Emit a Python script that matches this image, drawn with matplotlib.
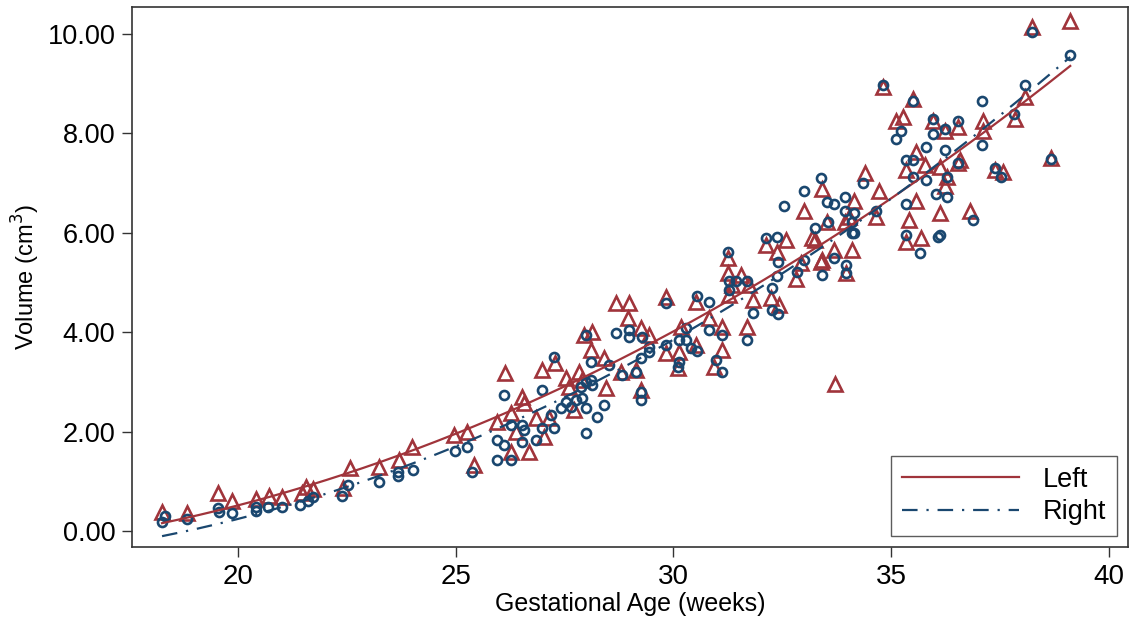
import numpy as np
import matplotlib.pyplot as plt

plt.rcParams.update({
    'font.family': 'Liberation Sans',
    'font.size': 19,
    'xtick.labelsize': 20,
    'ytick.labelsize': 19.5,
    'legend.fontsize': 19.5,
})

# Left kidney volume (triangles)
left_age = [18.26, 18.83, 19.54, 19.86, 20.41, 20.71, 21.01, 21.47, 21.56, 21.72,
            22.41, 22.57, 23.25, 23.69, 23.99, 24.97, 25.25, 25.43, 26.14, 25.96,
            26.28, 26.28, 26.53, 26.58, 26.39, 26.85, 26.69, 27.03, 26.99, 27.29,
            27.15, 27.54, 27.61, 27.84, 27.72, 27.95, 28.13, 28.11, 27.90, 28.41,
            28.45, 28.68, 28.98, 28.96, 28.80, 29.14, 29.26, 29.26, 29.44, 29.83,
            30.13, 30.10, 30.17, 29.83, 30.52, 31.25, 31.25, 31.55, 31.34, 31.27,
            31.73, 31.82, 32.23, 32.42, 31.68, 31.11, 31.11, 30.93, 30.81, 30.52,
            32.12, 32.58, 32.37, 32.81, 32.94, 33.26, 33.40, 33.68, 34.09, 33.97,
            33.70, 33.52, 33.95, 34.82, 35.51, 35.12, 35.28, 35.97, 36.54, 35.56,
            35.78, 35.35, 36.13, 36.59, 36.24, 34.41, 33.40, 34.71, 32.99, 34.14,
            34.02, 34.66, 35.56, 35.40, 36.13, 36.82, 35.35, 35.69, 33.18, 33.38,
            38.24, 39.11, 38.08, 37.11, 37.11, 37.85, 38.67, 36.24, 36.54, 37.39,
            37.57, 36.27]
left_vol = [0.38, 0.36, 0.77, 0.60, 0.64, 0.70, 0.68, 0.77, 0.89, 0.85,
            0.87, 1.27, 1.29, 1.43, 1.69, 1.93, 1.99, 1.33, 3.18, 2.20,
            2.38, 1.59, 2.70, 2.58, 1.99, 2.28, 1.59, 1.89, 3.24, 3.38,
            2.28, 3.08, 2.90, 3.20, 2.44, 3.95, 4.01, 3.65, 3.04, 3.48,
            2.88, 4.59, 4.59, 4.29, 3.20, 3.24, 4.09, 2.84, 3.95, 3.59,
            3.61, 3.28, 4.11, 4.71, 4.61, 5.50, 5.20, 5.16, 4.95, 4.75,
            4.95, 4.65, 4.69, 4.55, 4.11, 4.11, 3.65, 3.30, 4.29, 3.75,
            5.76, 5.86, 5.62, 5.06, 5.40, 5.86, 5.46, 5.66, 5.66, 5.20,
            2.96, 6.22, 6.22, 8.94, 8.68, 8.24, 8.32, 8.24, 8.12, 7.63,
            7.37, 7.27, 7.33, 7.47, 6.93, 7.21, 6.87, 6.83, 6.43, 6.63,
            6.32, 6.32, 6.63, 6.26, 6.40, 6.43, 5.82, 5.90, 5.90, 5.42,
            10.13, 10.25, 8.72, 8.24, 8.04, 8.28, 7.51, 8.04, 7.41, 7.27,
            7.23, 7.13]

# Right kidney volume (circles)
right_age = [18.26, 18.33, 18.83, 19.54, 19.56, 19.86, 20.41, 20.41, 20.69, 21.01,
             21.42, 21.60, 21.72, 22.38, 22.54, 23.25, 23.67, 23.67, 24.01, 24.99,
             25.27, 25.38, 26.12, 25.96, 26.12, 25.96, 26.28, 26.28, 26.53, 26.58,
             26.53, 26.85, 26.99, 26.99, 27.26, 27.26, 27.19, 27.42, 27.54, 27.65,
             27.77, 27.90, 28.00, 27.88, 28.00, 28.11, 28.11, 28.13, 28.25, 28.41,
             28.00, 28.00, 28.52, 28.68, 28.98, 28.98, 28.82, 29.14, 29.26, 29.26,
             29.26, 29.28, 29.44, 29.44, 29.83, 29.83, 30.13, 30.13, 30.10, 30.29,
             30.29, 30.40, 30.54, 31.25, 31.27, 31.27, 31.43, 31.68, 30.54, 30.81,
             30.81, 31.11, 30.97, 31.11, 31.82, 31.68, 32.12, 32.37, 32.39, 32.37,
             32.26, 32.26, 32.39, 32.83, 32.99, 33.26, 33.40, 33.68, 33.97, 33.97,
             34.09, 33.56, 34.09, 34.82, 35.51, 35.23, 35.10, 35.97, 35.97, 36.24,
             36.54, 35.81, 36.24, 36.54, 35.35, 35.51, 35.51, 35.81, 36.27, 36.03,
             36.27, 36.88, 33.38, 32.99, 34.36, 32.53, 33.52, 33.68, 33.95, 33.95,
             34.14, 34.14, 34.66, 35.35, 35.35, 36.08, 35.67, 38.24, 39.11, 38.08,
             37.09, 37.09, 37.82, 38.67, 37.39, 37.53, 36.13]
right_vol = [0.18, 0.30, 0.24, 0.46, 0.38, 0.36, 0.48, 0.40, 0.48, 0.48,
             0.52, 0.60, 0.68, 0.70, 0.93, 0.99, 1.19, 1.11, 1.23, 1.61,
             1.69, 1.19, 2.74, 1.83, 1.73, 1.43, 1.43, 2.13, 2.13, 2.03,
             1.79, 1.83, 2.07, 2.84, 3.50, 2.07, 2.34, 2.48, 2.60, 2.50,
             2.64, 2.68, 2.48, 2.90, 3.00, 3.04, 3.40, 2.94, 2.30, 2.54,
             1.97, 3.95, 3.34, 3.99, 4.05, 3.91, 3.14, 3.20, 3.48, 2.80,
             2.64, 3.91, 3.71, 3.61, 4.59, 3.75, 3.85, 3.40, 3.30, 4.09,
             3.85, 3.69, 3.62, 5.62, 5.02, 4.85, 5.02, 5.02, 4.73, 4.61,
             4.05, 3.95, 3.44, 3.20, 4.39, 3.85, 5.90, 5.92, 5.42, 5.12,
             4.89, 4.45, 4.37, 5.22, 5.46, 6.10, 5.16, 5.50, 5.36, 5.20,
             6.00, 6.22, 6.22, 8.98, 8.64, 8.04, 7.88, 8.28, 7.98, 8.08,
             8.24, 7.73, 7.67, 7.41, 7.47, 7.47, 7.13, 7.07, 7.13, 6.77,
             6.71, 6.26, 7.11, 6.83, 7.01, 6.53, 6.61, 6.57, 6.71, 6.43,
             6.40, 6.00, 6.43, 6.57, 5.96, 5.92, 5.60, 10.03, 9.57, 8.98,
             8.64, 7.77, 8.38, 7.49, 7.31, 7.13, 5.96]

red = '#A0343B'
navy = '#1A476F'

fig = plt.figure(figsize=(11.32, 6.24), dpi=100)
ax = fig.add_axes([0.1166, 0.1234, 0.88, 0.8654])

ax.plot(left_age, left_vol, linestyle='none', marker='^', markersize=10.5,
        markerfacecolor='none', markeredgecolor=red, markeredgewidth=1.9)
ax.plot(right_age, right_vol, linestyle='none', marker='o', markersize=6.5,
        markerfacecolor='none', markeredgecolor=navy, markeredgewidth=1.9)

# quadratic fits, as in the original figure
la = np.array(left_age)
ra = np.array(right_age)
xl = np.linspace(la.min(), la.max(), 200)
xr = np.linspace(ra.min(), ra.max(), 200)
cl = np.polyfit(la, left_vol, 2)
cr = np.polyfit(ra, right_vol, 2)
ax.plot(xl, np.polyval(cl, xl), color=red, linewidth=1.6, label='Left')
ax.plot(xr, np.polyval(cr, xr), color=navy, linewidth=1.6,
        linestyle=(0, (7, 4, 1, 4)), label='Right')

ax.set_xlim(17.57, 40.44)
ax.set_ylim(-0.32, 10.54)
ax.set_xticks([20, 25, 30, 35, 40])
ax.set_yticks([0, 2, 4, 6, 8, 10])
ax.set_yticklabels(['%.2f' % v for v in [0, 2, 4, 6, 8, 10]])
ax.tick_params(length=7, width=1, color='#333333', pad=5)
for s in ax.spines.values():
    s.set_color('#333333')
    s.set_linewidth(1.2)

ax.set_xlabel('Gestational Age (weeks)', fontsize=18, labelpad=2)
ax.set_ylabel('Volume (cm$^3$)', fontsize=17, labelpad=4)

leg = ax.legend(loc='lower right', handlelength=4.3, frameon=True, fancybox=False,
                edgecolor='#333333', borderaxespad=0.4, handletextpad=0.9,
                borderpad=0.4, labelspacing=0.25)
leg.get_frame().set_linewidth(1.0)

fig.savefig('out.png', dpi=100)
